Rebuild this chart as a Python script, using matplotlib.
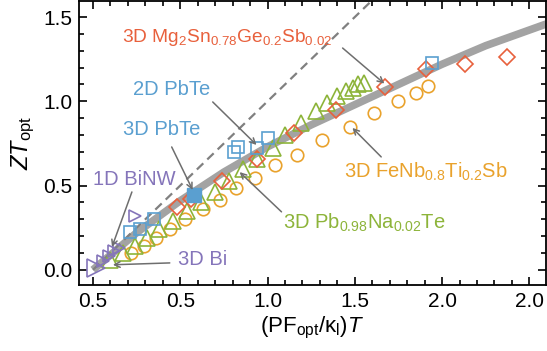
import matplotlib
matplotlib.use("Agg")
import matplotlib.pyplot as plt
import numpy as np

plt.rcParams['font.family'] = ['Liberation Sans', 'DejaVu Sans']
plt.rcParams['mathtext.fontset'] = 'custom'
plt.rcParams['mathtext.rm'] = 'Liberation Sans'
plt.rcParams['mathtext.it'] = 'Liberation Sans:italic'
plt.rcParams['mathtext.bf'] = 'Liberation Sans:bold'

# ---- data ----
curve_x = [0.0, 0.25, 0.5, 0.75, 1.0, 1.25, 1.5, 1.75, 2.0, 2.25, 2.6]
curve_y = [0.0, 0.22, 0.41, 0.58, 0.73, 0.86, 0.98, 1.10, 1.22, 1.33, 1.46]
tangent_x = [0.0, 2.0]
tangent_y = [0.0, 2.0]

fenb_x = [0.22, 0.29, 0.36, 0.44, 0.53, 0.63, 0.73, 0.82, 0.93, 1.04, 1.17, 1.31, 1.47, 1.61, 1.75, 1.85, 1.92]
fenb_y = [0.10, 0.14, 0.19, 0.24, 0.30, 0.36, 0.415, 0.485, 0.545, 0.62, 0.68, 0.77, 0.85, 0.93, 1.00, 1.05, 1.09]

mg_x = [0.48, 0.56, 0.74, 0.94, 1.15, 1.39, 1.67, 1.91, 2.13, 2.37]
mg_y = [0.37, 0.42, 0.53, 0.66, 0.81, 0.95, 1.085, 1.19, 1.22, 1.26]

pbna_x = [0.10, 0.17, 0.24, 0.31, 0.38, 0.46, 0.54, 0.62, 0.70, 0.78, 0.86, 0.94, 1.03, 1.10,
          1.19, 1.28, 1.34, 1.40, 1.45, 1.49, 1.52, 1.55]
pbna_y = [0.06, 0.10, 0.14, 0.19, 0.24, 0.29, 0.35, 0.40, 0.46, 0.53, 0.60, 0.66, 0.72, 0.80,
          0.87, 0.94, 0.99, 1.03, 1.06, 1.08, 1.10, 1.11]

pbte2d_x = [0.21, 0.27, 0.35, 0.81, 0.83, 0.94, 1.00, 1.94]
pbte2d_y = [0.225, 0.24, 0.30, 0.70, 0.73, 0.72, 0.78, 1.23]

pbte3d_x = [0.58]
pbte3d_y = [0.445]

binw_x = [0.06, 0.09, 0.12, 0.15, 0.24]
binw_y = [0.05, 0.08, 0.11, 0.13, 0.32]

bi3d_x = [0.02]
bi3d_y = [0.01]

xtick_pos = [0.0, 0.5, 1.0, 1.5, 2.0, 2.5]
xtick_labels = ["0.5", "0.5", "1.0", "1.5", "2.0", "2.0"]
ytick_pos = [0.0, 0.5, 1.0, 1.5]
ytick_labels = ["0.0", "0.5", "1.0", "1.5"]

c_red = '#E8603C'
c_blue = '#5A9FD0'
c_purple = '#8575BA'
c_orange = '#E9A22C'
c_green = '#8DB43A'
c_gray = '#A3A3A3'
c_arrow = '#6E6E6E'

fig = plt.figure(figsize=(5.47, 3.51), dpi=100)
ax = fig.add_axes([79/547, 66/351, 467/547, 284/351])

ax.plot(curve_x, curve_y, color=c_gray, lw=5.5, solid_capstyle='butt', zorder=1)
ax.plot(tangent_x, tangent_y, color='#808080', lw=1.6, ls=(0, (4, 2.5)), zorder=1)

mk = dict(ls='none', mfc='none', mew=1.2)
ax.plot(fenb_x, fenb_y, marker='o', ms=9, mec=c_orange, zorder=3, **mk)
ax.plot(pbna_x, pbna_y, marker='^', ms=11, mec=c_green, zorder=3, **mk)
ax.plot(mg_x, mg_y, marker='D', ms=8, mec=c_red, zorder=4, **mk)
ax.plot(pbte2d_x, pbte2d_y, marker='s', ms=9, mec=c_blue, zorder=5, **mk)
ax.plot(pbte3d_x, pbte3d_y, marker='s', ms=10, ls='none', mfc=c_blue, mec=c_blue, zorder=6)
ax.plot(binw_x, binw_y, marker='>', ms=9, mec=c_purple, zorder=5, **mk)
ax.plot(bi3d_x, bi3d_y, marker='>', ms=13, mec=c_purple, zorder=5, **mk)

fs = 14.5
ap = dict(arrowstyle='->', color=c_arrow, lw=1.1, shrinkA=0, shrinkB=0, mutation_scale=10)

def label(text, pos, color, size=fs):
    ax.text(pos[0], pos[1], text, color=color, fontsize=size, ha='center', va='center', zorder=7)

def arrow(start, end):
    ax.annotate('', xy=end, xytext=start, arrowprops=ap, zorder=7)

label('3D Mg$_2$Sn$_{0.78}$Ge$_{0.2}$Sb$_{0.02}$', (0.77, 1.38), c_red, 13.8)
arrow((1.43, 1.316), (1.669, 1.105))
label('2D PbTe', (0.45, 1.067), c_blue)
arrow((0.686, 0.996), (0.937, 0.741))
label('3D PbTe', (0.394, 0.83), c_blue)
arrow((0.451, 0.729), (0.571, 0.474))
label('1D BiNW', (0.235, 0.534), c_purple)
arrow((0.223, 0.462), (0.109, 0.136))
label('3D Bi', (0.63, 0.06), c_purple)
arrow((0.44, 0.041), (0.114, 0.03))
label('3D FeNb$_{0.8}$Ti$_{0.2}$Sb', (1.906, 0.58), c_orange)
arrow((1.651, 0.67), (1.486, 0.842))
label('3D Pb$_{0.98}$Na$_{0.02}$Te', (1.554, 0.279), c_green)
arrow((1.08, 0.344), (0.84, 0.58))

ax.set_xlim(-0.08, 2.595)
ax.set_ylim(-0.09, 1.595)
ax.set_xticks(xtick_pos)
ax.set_xticklabels(xtick_labels)
ax.set_yticks(ytick_pos)
ax.set_yticklabels(ytick_labels)
ax.xaxis.set_minor_locator(matplotlib.ticker.MultipleLocator(0.1))
ax.yaxis.set_minor_locator(matplotlib.ticker.MultipleLocator(0.1))
ax.tick_params(which='both', direction='in', top=True, right=True, width=1.2, labelsize=15)
ax.tick_params(which='major', length=6, pad=5)
ax.tick_params(which='minor', length=3.5)
for s in ax.spines.values():
    s.set_linewidth(1.3)

ax.set_xlabel('(PF$_{\\mathrm{opt}}$/κ$_{\\mathrm{l}}$)$\\mathit{T}$', fontsize=16, labelpad=3)
ax.set_ylabel('$\\mathit{ZT}_{\\mathrm{opt}}$', fontsize=17, labelpad=4)

fig.savefig('out.png', dpi=100)
